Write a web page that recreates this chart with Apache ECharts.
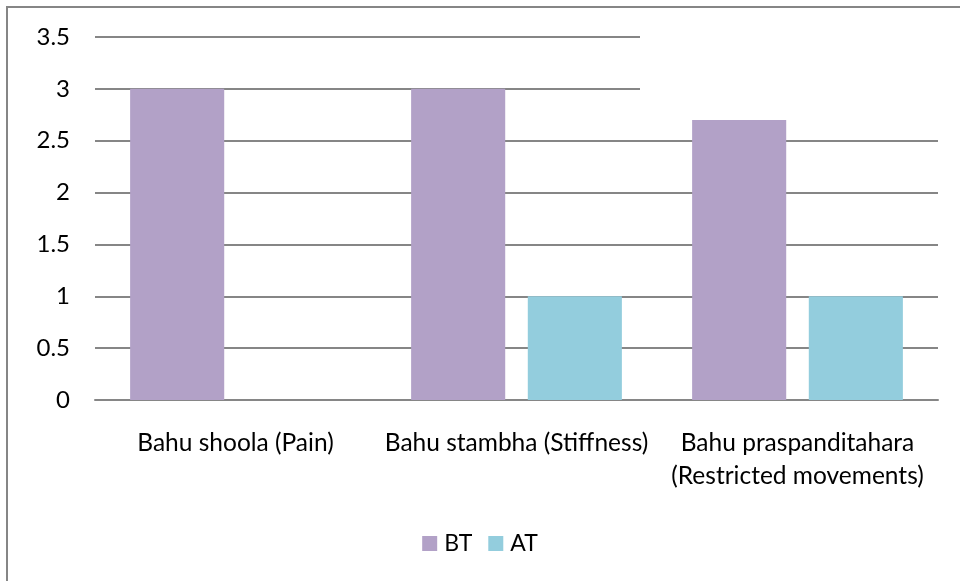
<!DOCTYPE html>
<html><head><meta charset="utf-8">
<script src="https://cdn.jsdelivr.net/npm/echarts@6/dist/echarts.min.js"></script>
<style>html,body{margin:0;padding:0;background:#fff}#c{width:960px;height:581px}</style>
</head><body><div id="c"></div>
<script>
const categories = ['Bahu shoola (Pain)', 'Bahu stambha (Stiffness)', 'Bahu praspanditahara\n(Restricted movements)'];
const seriesNames = ['BT', 'AT'];
const btValues = [3, 3, 2.7];
const atValues = [0, 1, 1];
const colors = ['#B2A1C7', '#93CDDD'];
const font = 'Lato, "Open Sans", sans-serif';

const chart = echarts.init(document.getElementById('c'), null, {renderer: 'canvas'});
chart.setOption({
  animation: false,
  backgroundColor: '#fff',
  textStyle: {fontFamily: font},
  grid: {left: 95, right: 22, top: 37, bottom: 181, containLabel: false},
  legend: {
    data: seriesNames, top: 527, left: 'center',
    itemWidth: 15, itemHeight: 15, itemGap: 16, icon: 'rect',
    textStyle: {fontSize: 23, color: '#000', fontFamily: font, padding: [0, 0, 0, 2]}
  },
  graphic: [
    {type: 'rect', shape: {x: 7, y: 7, width: 1000, height: 1000}, style: {fill: 'none', stroke: '#868686', lineWidth: 2}, z: 100},
    {type: 'rect', shape: {x: 640, y: 28, width: 305, height: 80}, style: {fill: '#fff'}, z: 1}
  ],
  xAxis: {
    type: 'category', data: categories,
    axisLine: {lineStyle: {color: '#868686', width: 2}},
    axisTick: {show: false},
    axisLabel: {fontSize: 24.5, color: '#000', margin: 27, lineHeight: 33, fontFamily: font, interval: 0}
  },
  yAxis: {
    type: 'value', min: 0, max: 3.5, interval: 0.5,
    axisLine: {show: false}, axisTick: {show: false},
    splitLine: {lineStyle: {color: '#868686', width: 2}},
    axisLabel: {fontSize: 24, color: '#000', margin: 25, fontFamily: font}
  },
  series: [
    {name: 'BT', type: 'bar', data: btValues, itemStyle: {color: colors[0]}, barGap: '24%', barCategoryGap: '25%', z: 3},
    {name: 'AT', type: 'bar', data: atValues, itemStyle: {color: colors[1]}, z: 3}
  ]
});
</script></body></html>
